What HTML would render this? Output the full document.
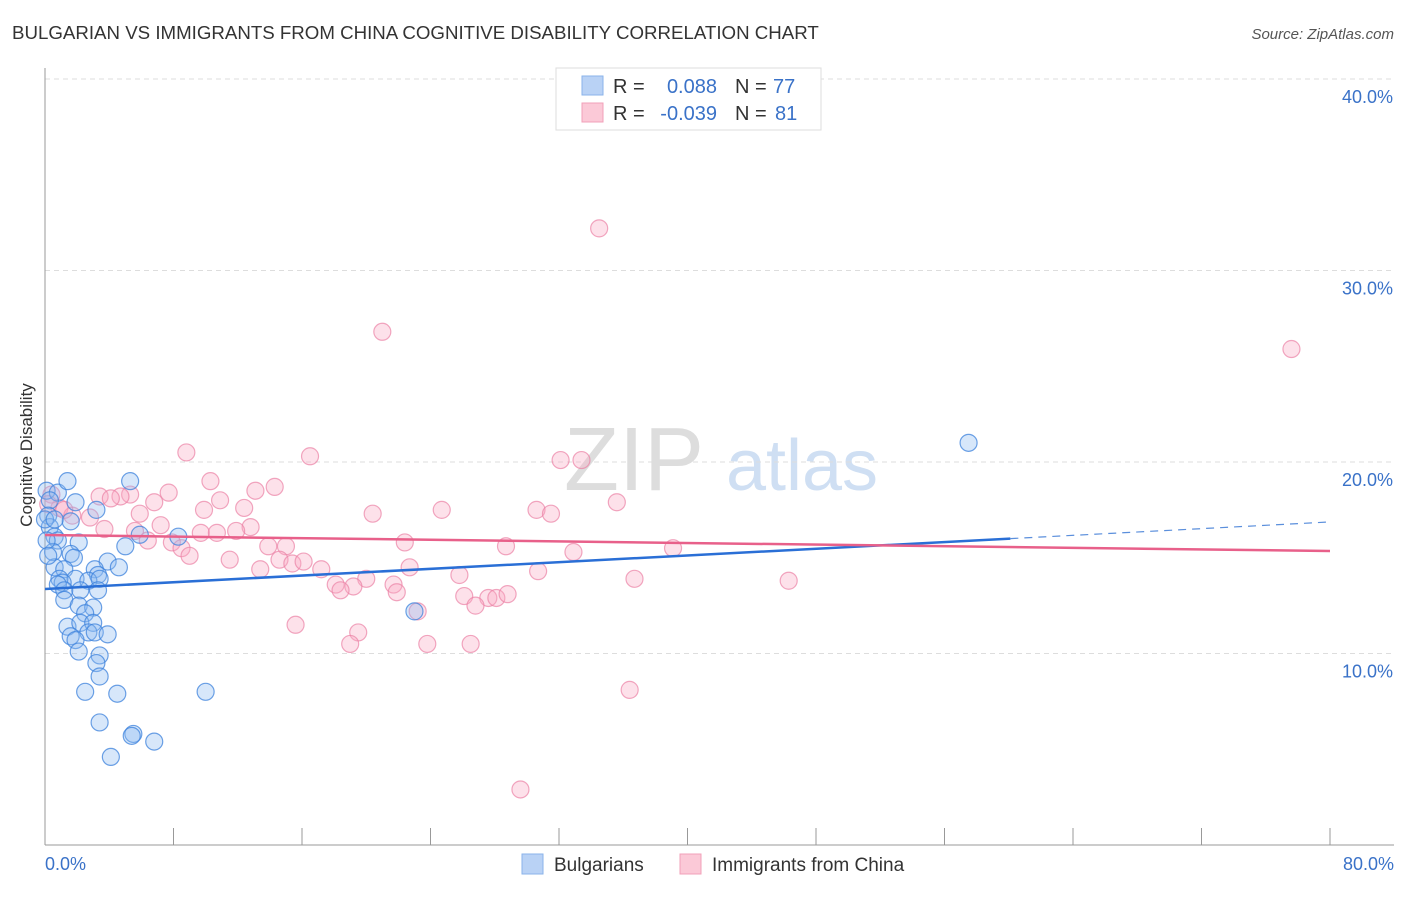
<!DOCTYPE html>
<html><head><meta charset="utf-8"><style>
body{margin:0;background:#fff;font-family:"Liberation Sans",sans-serif;}
svg text{font-family:"Liberation Sans",sans-serif;}
</style></head><body>
<svg id="chart" width="1406" height="892">
<text x="12" y="39" font-size="18.7" fill="#333">BULGARIAN VS IMMIGRANTS FROM CHINA COGNITIVE DISABILITY CORRELATION CHART</text>
<text x="1394" y="39" font-size="15" fill="#555" font-style="italic" text-anchor="end">Source: ZipAtlas.com</text>
<text x="32" y="455" font-size="17" fill="#333" transform="rotate(-90 32 455)" text-anchor="middle">Cognitive Disability</text>
<g><text x="634" y="490" font-size="90" fill="#ddd" font-family="Liberation Serif" text-anchor="middle">ZIP</text><text x="802" y="490" font-size="72" fill="#cfdff3" text-anchor="middle">atlas</text></g>
<g id="grid"></g><g id="axes"></g><g id="pts"></g><g id="trend"></g>
<g>
<rect x="556" y="68" width="265" height="62" fill="#fff" stroke="#ddd"/>
<rect x="582" y="76" width="21" height="19" fill="#b9d2f5" stroke="#8ab3ea"/>
<rect x="582" y="103" width="21" height="19" fill="#fbc9d7" stroke="#f2a0b8"/>
<text x="613" y="93" font-size="20" fill="#333">R = </text><text x="717" y="93" font-size="20" fill="#3a72c8" text-anchor="end">0.088</text>
<text x="735" y="93" font-size="20" fill="#333">N = </text><text x="773" y="93" font-size="20" fill="#3a72c8">77</text>
<text x="613" y="120" font-size="20" fill="#333">R = </text><text x="717" y="120" font-size="20" fill="#3a72c8" text-anchor="end">-0.039</text>
<text x="735" y="120" font-size="20" fill="#333">N = </text><text x="775" y="120" font-size="20" fill="#3a72c8">81</text>
</g>
<g>
<rect x="522" y="854" width="21" height="20" fill="#b9d2f5" stroke="#8ab3ea"/>
<text x="554" y="871" font-size="19" fill="#333">Bulgarians</text>
<rect x="680" y="854" width="21" height="20" fill="#fbc9d7" stroke="#f2a0b8"/>
<text x="712" y="871" font-size="19" fill="#333">Immigrants from China</text>
</g>
</svg>
<script>
const yTicks=[10,20,30,40];
const yTickLabels=["10.0%","20.0%","30.0%","40.0%"];
const xTickLabels=["0.0%","80.0%"];
const blueX=[0.1,0.8,1.4,5.3,0.3,1.9,3.2,0.2,1.6,0.3,0.6,0.8,8.3,5.9,2.1,5.0,0.5,1.6,1.8,3.9,0.6,1.2,3.1,4.6,3.3,0.9,1.9,2.7,1.1,0.8,3.4,1.2,2.2,3.3,1.2,2.1,3.0,2.5,23.0,1.4,2.2,3.0,2.7,3.1,1.6,1.9,3.9,2.1,3.4,3.2,3.4,2.5,4.5,10.0,3.4,5.5,5.4,6.8,4.1,57.5,0,0.1,0.2,0.6];
const blueY=[18.5,18.4,19.0,19.0,18.0,17.9,17.5,17.2,16.9,16.6,16.1,15.9,16.1,16.2,15.8,15.6,15.3,15.2,15.0,14.8,14.5,14.4,14.4,14.5,14.1,13.9,13.9,13.8,13.7,13.6,13.9,13.3,13.3,13.3,12.8,12.5,12.4,12.1,12.2,11.4,11.6,11.6,11.1,11.1,10.9,10.7,11.0,10.1,9.9,9.5,8.8,8.0,7.9,8.0,6.4,5.8,5.7,5.4,4.6,21.0,17.0,15.9,15.1,17.0];
const pinkX=[34.5,21.0,77.6,8.8,16.5,33.4,32.1,10.3,14.3,13.1,7.7,5.3,4.7,3.4,6.8,10.9,35.6,12.4,24.7,30.6,20.4,31.5,9.9,5.9,0.9,1.7,2.8,7.2,12.8,9.7,10.7,11.9,3.7,5.6,6.4,7.9,22.4,13.9,15.0,28.7,8.5,32.9,39.1,9.0,14.6,11.5,15.4,16.1,17.2,13.4,22.7,30.7,25.8,20.0,36.7,46.3,18.1,19.2,21.7,18.4,21.9,26.1,27.6,28.1,28.8,26.8,23.2,15.6,19.5,19.0,23.8,26.5,36.4,29.6,0.4,0.2,1.2,4.1];
const pinkY=[32.2,26.8,25.9,20.5,20.3,20.1,20.1,19.0,18.7,18.5,18.4,18.3,18.2,18.2,17.9,18.0,17.9,17.6,17.5,17.5,17.3,17.3,17.5,17.3,17.6,17.2,17.1,16.7,16.6,16.3,16.3,16.4,16.5,16.4,15.9,15.8,15.8,15.6,15.6,15.6,15.5,15.3,15.5,15.1,14.9,14.9,14.7,14.8,14.4,14.4,14.5,14.3,14.1,13.9,13.9,13.8,13.6,13.5,13.6,13.3,13.2,13.0,12.9,12.9,13.1,12.5,12.2,11.5,11.1,10.5,10.5,10.5,8.1,2.9,18.3,17.8,17.5,18.1];
const blueTrend=[13.37,16.87]; const blueSolidEnd=60.1;
const pinkTrend=[16.19,15.35];
const NS="http://www.w3.org/2000/svg";
const X=v=>45+v/80*1285, Y=v=>845-v*19.15;
function mk(t,a,p){const e=document.createElementNS(NS,t);for(const k in a)e.setAttribute(k,a[k]);p.appendChild(e);return e;}
const grid=document.getElementById('grid'),axes=document.getElementById('axes');
yTicks.forEach((t,i)=>{
 const l=mk('line',{x1:45,x2:1394,y1:Y(t),y2:Y(t),stroke:'#ddd','stroke-dasharray':'5,4'},grid);
 
 
 const tx=mk('text',{x:1393,y:Y(t)+24,'font-size':18,fill:'#3a72c8','text-anchor':'end'},axes);tx.textContent=yTickLabels[i];
 
 
});
mk('line',{x1:45,x2:45,y1:68,y2:845,stroke:'#999'},axes);
mk('line',{x1:45,x2:1394,y1:845,y2:845,stroke:'#999'},axes);
for(let i=0;i<=10;i++){const t=mk('line',{x1:X(i*8),x2:X(i*8),y1:828,y2:845,stroke:'#999'},axes);
 
 }
[[45,'start',0],[1394,'end',1]].forEach(([x,a,i])=>{const t=mk('text',{x:x,y:870,'font-size':18,fill:'#3a72c8','text-anchor':a},axes);t.textContent=xTickLabels[i];
 
 });
const pts=document.getElementById('pts');
pinkX.forEach((x,i)=>{const c=mk('circle',{cx:X(x),cy:Y(pinkY[i]),r:8.5,fill:'rgba(248,170,195,0.35)',stroke:'rgba(235,130,165,0.7)','stroke-width':1.2},pts);
 
 });
blueX.forEach((x,i)=>{const c=mk('circle',{cx:X(x),cy:Y(blueY[i]),r:8.5,fill:'rgba(140,185,240,0.35)',stroke:'rgba(60,130,220,0.75)','stroke-width':1.2},pts);
 
 });
const tr=document.getElementById('trend');
const bAt=v=>blueTrend[0]+(blueTrend[1]-blueTrend[0])*v/80;
let l1=mk('line',{x1:X(0),y1:Y(bAt(0)),x2:X(blueSolidEnd),y2:Y(bAt(blueSolidEnd)),stroke:'#2a6fd6','stroke-width':2.5},tr);


let l2=mk('line',{x1:X(blueSolidEnd),y1:Y(bAt(blueSolidEnd)),x2:X(80),y2:Y(bAt(80)),stroke:'#5b8fdc','stroke-width':1.2,'stroke-dasharray':'8,6'},tr);


let l3=mk('line',{x1:X(0),y1:Y(pinkTrend[0]),x2:X(80),y2:Y(pinkTrend[1]),stroke:'#e8608a','stroke-width':2.5},tr);


</script>
</body></html>
